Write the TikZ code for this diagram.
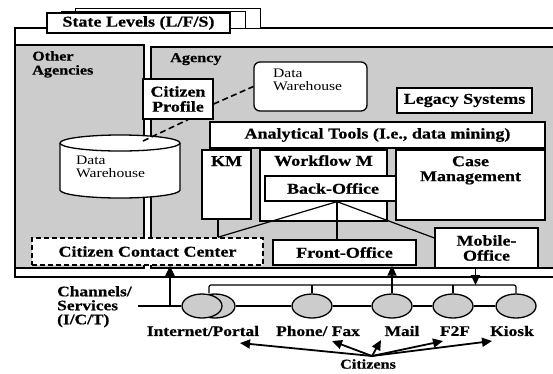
\documentclass[tikz,border=0pt]{standalone}
\usepackage{fontspec}
\setmainfont{Liberation Serif}[FakeStretch=1.2, BoldFeatures={FakeBold=0.6}]
\usetikzlibrary{arrows.meta,shapes.geometric}
\definecolor{stip}{gray}{0.8}
\begin{document}
\begin{tikzpicture}[x=1pt,y=-1pt,
  frame/.style={line width=1.2pt},
  box/.style={draw, fill=white, line width=1.3pt, inner sep=0pt, align=center,
    font=\bfseries\fontsize{15}{15}\selectfont},
  boxtext/.style={inner sep=0pt, align=center, font=\bfseries\fontsize{15}{15}\selectfont},
  dwtext/.style={inner sep=0pt, align=left, font=\fontsize{13}{12.5}\selectfont},
  ccbox/.style={box, dash pattern=on 5pt off 3pt, line width=1.6pt},
  conn/.style={line width=1.2pt},
  dashconn/.style={line width=1.6pt, dash pattern=on 6pt off 3.5pt},
  arr/.style={line width=1.8pt, -{Triangle[length=10pt,width=9pt]}},
  chan/.style={ellipse, draw, fill=stip, line width=1.3pt, minimum width=40pt, minimum height=24pt, inner sep=0pt},
  lab/.style={inner sep=0pt, font=\bfseries\fontsize{14.5}{14}\selectfont},
  grp/.style={inner sep=0pt, align=left, font=\bfseries\fontsize{13.5}{14}\selectfont}
]
\useasboundingbox (0,0) rectangle (553,373);

% outer frame and grey regions
\draw[frame, fill=white] (15,28) rectangle (600,277);
\draw[frame, fill=stip] (15,45) rectangle (144,268);
\draw[frame, fill=stip] (151,47) rectangle (600,268);

% stacked sheets
\draw[line width=1pt, fill=white] (75,8) rectangle (260,28);
\draw[line width=1pt, fill=white] (61,11) rectangle (245,28);
\node[box, minimum width=183pt, minimum height=20pt] (st) at (138.5,23) {State Levels (L/F/S)};

% group labels
\node[grp, anchor=north west] (oa) at (32,51) {Other\\Agencies};
\node[grp, anchor=north west] (ag) at (170,53) {Agency};

% big data warehouse cylinder
\draw[line width=1.3pt, fill=white] (60,143) -- (60,190)
  arc[start angle=180, end angle=360, x radius=60pt, y radius=8pt] -- (180,143)
  arc[start angle=0, end angle=180, x radius=60pt, y radius=8pt] -- cycle;
\draw[line width=1.3pt] (60,143) arc[start angle=180, end angle=360, x radius=60pt, y radius=8pt];
\coordinate (dwtop) at (143,141);
\node[dwtext, anchor=north west] (dw1t) at (76,156) {Data\\Warehouse};

% agency boxes
\node[box, minimum width=70pt, minimum height=40pt] (cp) at (178,99) {Citizen\\Profile};
\node[draw, fill=white, line width=1.3pt, rounded corners=6pt, minimum width=113pt, minimum height=49pt, inner sep=0pt] (dwb) at (310.5,86.5) {};
\node[dwtext, anchor=north west] (dwbt) at (273,69) {Data\\Warehouse};
\node[box, minimum width=135pt, minimum height=25pt] (leg) at (464.5,100.5) {Legacy Systems};
\node[box, minimum width=335pt, minimum height=26pt] (an) at (377.5,135) {Analytical Tools (I.e., data mining)};
\node[box, minimum width=49pt, minimum height=69pt] (km) at (226.5,184.5) {};
\node[boxtext, anchor=north] (kmt) at (226.5,156) {KM};
\node[box, minimum width=127pt, minimum height=71pt] (wf) at (323.5,185.5) {};
\node[boxtext, anchor=north] (wft) at (323.5,155) {Workflow M};
\node[box, minimum width=136pt, minimum height=25pt] (bo) at (333,188.5) {Back-Office};
\node[box, minimum width=149pt, minimum height=70pt] (cm) at (470.5,185) {};
\node[boxtext, anchor=north] (cmt) at (470.5,156) {Case\\Management};
\node[ccbox, minimum width=231pt, minimum height=27pt] (ccc) at (147.5,251.5) {Citizen Contact Center};
\node[box, minimum width=143pt, minimum height=25pt] (fo) at (344.5,252.5) {Front-Office};
\node[box, minimum width=103pt, minimum height=40pt] (mo) at (486.5,248) {Mobile-\\Office};

% dashed links
\draw[dashconn] (dwtop) -- ([xshift=10pt]cp.south);
\draw[dashconn] ([yshift=-5pt]cp.east) -- (dwb.west);

% back-office links
\coordinate (kmx) at ([xshift=-8.5pt]km.south);
\coordinate (bop) at ([xshift=4pt]bo.south);
\draw[conn] (kmx) -- (kmx |- ccc.north);
\draw[conn] (bop) -- (kmx |- ccc.north);
\draw[conn] (bop) -- (bop |- fo.north);
\draw[conn] (bop) -- ([yshift=10pt]mo.west);

% channels
\node[chan] (ipb) at (215,306) {};
\node[chan] (ip) at (202,306) {};
\node[chan] (ph) at (312,306) {};
\node[chan] (ml) at (392,306) {};
\node[chan] (ff) at (453,306) {};
\node[chan] (ki) at (516,306) {};
\draw[conn] (ipb.east) -- (ph.west);
\draw[conn] (ph.east) -- (ml.west);
\draw[conn] (ml.east) -- (ff.west);
\draw[conn] (ff.east) -- (ki.west);
\coordinate (bus) at (0,285);
\draw[conn, rounded corners=2pt] ([xshift=7pt]ip.north) |- (bus -| ki.north) -- (ki.north);
\draw[conn] (ph.north) -- (ph.north |- bus);
\draw[conn] (ff.north) -- (ff.north |- bus);

\draw[arr] (ml.north) -- (ml.north |- fo.south);
\coordinate (ms) at ([xshift=-11pt]mo.south);
\draw[arr] (ms) -- (ms |- bus);

\node[lab, anchor=north west, align=left] (chl) at (57,286) {Channels/\\Services\\(I/C/T)};
\coordinate (chs) at (138,306);
\draw[conn] (chs) -- (ip.west);
\coordinate (cha) at (170,306);
\draw[arr] (cha) -- (cha |- ccc.south);

% channel labels
\node[lab] (lip) at (203,331) {Internet/Portal};
\node[lab] (lph) at (318,331) {Phone/ Fax};
\node[lab] (lml) at (402,331) {Mail};
\node[lab] (lff) at (455,331) {F2F};
\node[lab] (lki) at (512,331) {Kiosk};
\node[lab, font=\bfseries\fontsize{13.5}{14}\selectfont] (cz) at (368,364) {Citizens};

\coordinate (czo) at (372,356);
\coordinate (t1) at (240,343);
\coordinate (t2) at (332,341);
\coordinate (t3) at (381,340);
\coordinate (t4) at (443,341);
\coordinate (t5) at (492,341);
\draw[arr] (czo) -- (t1);
\draw[arr] (czo) -- (t2);
\draw[arr] (czo) -- (t3);
\draw[arr] (czo) -- (t4);
\draw[arr] (czo) -- (t5);
\end{tikzpicture}
\end{document}
